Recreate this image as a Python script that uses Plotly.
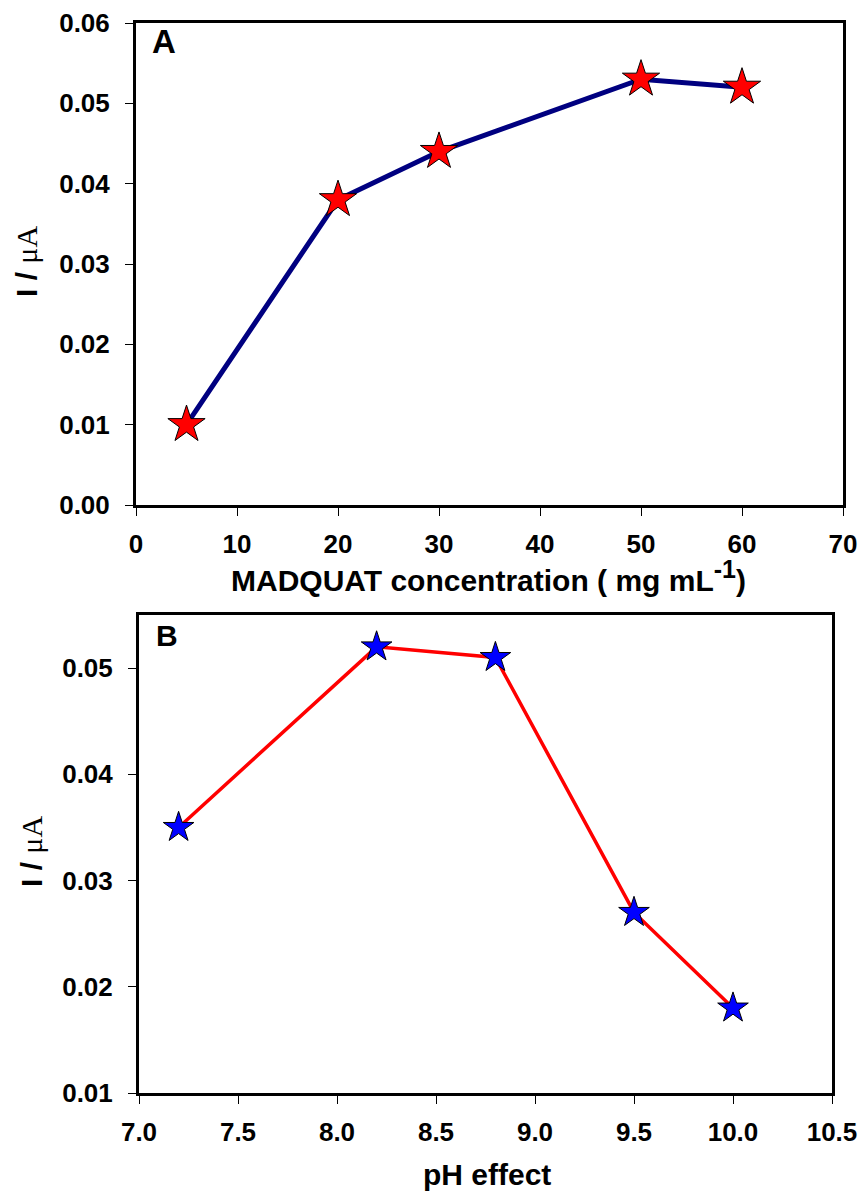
import plotly.graph_objects as go

# Panel A: MADQUAT concentration series
conc = [5, 20, 30, 50, 60]
current_a = [0.010, 0.038, 0.044, 0.053, 0.052]

# Panel B: pH series
ph = [7.2, 8.2, 8.8, 9.5, 10.0]
current_b = [0.035, 0.052, 0.051, 0.027, 0.018]

W, H = 859, 1192
FONT = "Liberation Sans, Arial, sans-serif"


def px_x(p):
    return p / W


def px_y(p):
    return 1 - p / H


fig = go.Figure()

fig.add_trace(go.Scatter(
    x=conc, y=current_a, mode="lines+markers",
    line=dict(color="#000080", width=5),
    marker=dict(symbol="star", size=28, color="#ff0000",
                line=dict(color="black", width=1)),
    xaxis="x", yaxis="y", showlegend=False,
))

fig.add_trace(go.Scatter(
    x=ph, y=current_b, mode="lines+markers",
    line=dict(color="#ff0000", width=3.5),
    marker=dict(symbol="star", size=23, color="#0000ff",
                line=dict(color="black", width=1)),
    xaxis="x2", yaxis="y2", showlegend=False,
))

tick_font = dict(family=FONT, size=26, color="black", weight="bold")
axis_common = dict(
    showline=True, linecolor="black", linewidth=3, mirror=True,
    ticks="outside", ticklen=8, tickwidth=1, tickcolor="black",
    showgrid=False, zeroline=False, tickfont=tick_font, automargin=False,
)

fig.update_layout(
    width=W, height=H,
    margin=dict(l=0, r=0, t=0, b=0),
    paper_bgcolor="white", plot_bgcolor="white",
    xaxis=dict(domain=[px_x(136), px_x(843)], range=[0, 70], dtick=10,
               tickformat="d", anchor="y", ticklabelstandoff=6,
               **axis_common),
    yaxis=dict(domain=[px_y(505), px_y(23)], range=[0, 0.06], dtick=0.01,
               tickformat=".2f", anchor="x", ticklabelstandoff=10,
               **axis_common),
    xaxis2=dict(domain=[px_x(139), px_x(832)], range=[7.0, 10.5], dtick=0.5,
                tickformat=".1f", anchor="y2", ticklabelstandoff=6,
                **axis_common),
    yaxis2=dict(domain=[px_y(1093), px_y(615)], range=[0.01, 0.055],
                tickvals=[0.01, 0.02, 0.03, 0.04, 0.05],
                tickformat=".2f", anchor="x2", ticklabelstandoff=10,
                **axis_common),
)

title_font = dict(family=FONT, size=30, color="black", weight="bold")
ylab = "I / <span style='font-family:Liberation Serif, Times New Roman, serif; font-weight:normal'>μA</span>"
xlab_a = ("MADQUAT concentration ( mg mL"
          "<sup><span style='font-size:25px'>-1</span></sup>)")

annotations = [
    dict(text="A", x=px_x(164), y=px_y(42), xanchor="center", yanchor="middle",
         font=dict(family=FONT, size=33, color="black", weight="bold")),
    dict(text="B", x=px_x(167), y=px_y(635), xanchor="center", yanchor="middle",
         font=dict(family=FONT, size=30, color="black", weight="bold")),
    dict(text=ylab, x=px_x(26), y=px_y(262), textangle=-90,
         xanchor="center", yanchor="middle", font=title_font),
    dict(text=ylab, x=px_x(31), y=px_y(852), textangle=-90,
         xanchor="center", yanchor="middle", font=title_font),
    dict(text=xlab_a, x=px_x(488), y=px_y(576), xanchor="center",
         yanchor="middle", font=title_font),
    dict(text="pH effect", x=px_x(487), y=px_y(1174), xanchor="center",
         yanchor="middle", font=title_font),
]
for a in annotations:
    a.update(xref="paper", yref="paper", showarrow=False)
fig.update_layout(annotations=annotations)

fig.write_html("out.html")
